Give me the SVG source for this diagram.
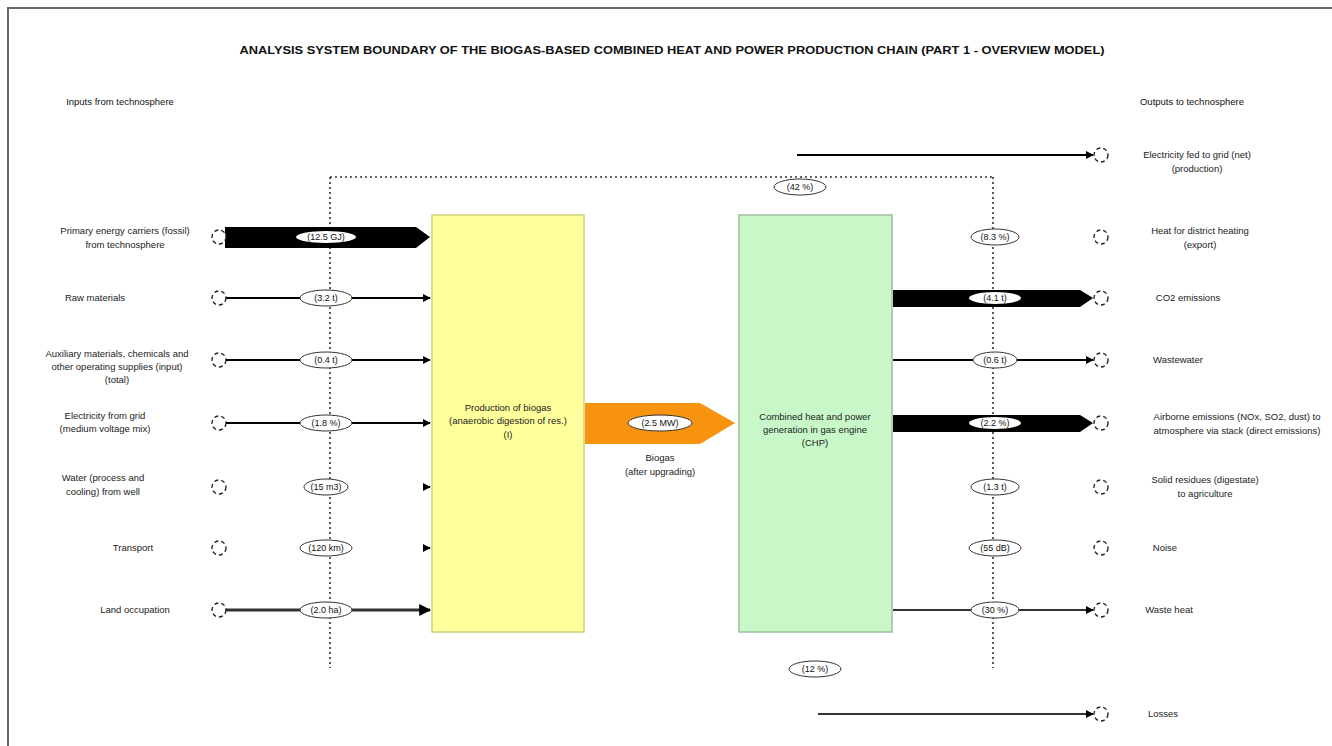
<svg xmlns="http://www.w3.org/2000/svg" width="1332" height="746" viewBox="0 0 1332 746">
<style>
text{font-family:"Liberation Sans",Arial,sans-serif;font-size:9.5px;fill:#222}
.t{font-size:10px;font-weight:bold;fill:#111}
.h{font-size:9.5px;fill:#111}
.lbl{text-anchor:middle}
.ln{stroke:#000;stroke-width:2;fill:none}
.dot{stroke:#333;stroke-width:1.6;stroke-dasharray:2 3;fill:none}
.src{fill:#fff;stroke:#222;stroke-width:1.4;stroke-dasharray:4 3}
.el{fill:#fff;stroke:none}
.elo{fill:#fff;stroke:#333;stroke-width:1}
.eltxt{text-anchor:middle;font-size:9px;fill:#111}
</style>
<defs>
<marker id="ah" viewBox="0 0 10 10" refX="9" refY="5" markerWidth="4" markerHeight="4" orient="auto">
<path d="M0,0 L10,5 L0,10 z" fill="#000"/>
</marker>
</defs>
<rect x="8" y="8" width="1340" height="750" fill="#fff" stroke="#666" stroke-width="2"/>
<text class="t lbl" x="672" y="54" textLength="865" lengthAdjust="spacingAndGlyphs">ANALYSIS SYSTEM BOUNDARY OF THE BIOGAS-BASED COMBINED HEAT AND POWER PRODUCTION CHAIN (PART 1 - OVERVIEW MODEL)</text>
<text class="h lbl" x="120" y="105">Inputs from technosphere</text>
<text class="h lbl" x="1192" y="105">Outputs to technosphere</text>

<g id="boundary">
<path class="dot" d="M330,177 H993 M330,177 V668 M993,177 V668"/>
</g>

<g id="process1">
<rect x="432" y="215" width="152" height="417" fill="#ffff9c" stroke="#cfcf80" stroke-width="1.5"/>
<text class="lbl" x="508" y="411">Production of biogas</text>
<text class="lbl" x="508" y="424">(anaerobic digestion of res.)</text>
<text class="lbl" x="508" y="438">(I)</text>
</g>

<g id="process2">
<rect x="739" y="215" width="153" height="417" fill="#c8f8c8" stroke="#9fbf9f" stroke-width="1.5"/>
<text class="lbl" x="815" y="420">Combined heat and power</text>
<text class="lbl" x="815" y="433">generation in gas engine</text>
<text class="lbl" x="815" y="446">(CHP)</text>
</g>

<g id="connectors">
<polygon points="585,403 700,403 735,423 700,444 585,444" fill="#f7930f"/>
<ellipse class="elo" cx="660" cy="423" rx="32" ry="8"/>
<text class="eltxt" x="660" y="426">(2.5 MW)</text>
<text class="lbl" x="660" y="461">Biogas</text>
<text class="lbl" x="660" y="475">(after upgrading)</text>

<polygon points="225,227 416,227 430,237 416,248 225,248" fill="#000"/>
<ellipse class="el" cx="326" cy="237" rx="30" ry="6"/>
<text class="eltxt" x="326" y="240">(12.5 GJ)</text>
<line class="ln" x1="225" y1="298" x2="430" y2="298" marker-end="url(#ah)"/>
<line class="ln" x1="225" y1="360" x2="430" y2="360" marker-end="url(#ah)"/>
<line class="ln" x1="225" y1="423" x2="430" y2="423" marker-end="url(#ah)"/>
<line class="ln" x1="424" y1="487" x2="430" y2="487" marker-end="url(#ah)"/>
<line class="ln" x1="424" y1="548" x2="430" y2="548" marker-end="url(#ah)"/>
<line x1="225" y1="610" x2="430" y2="610" stroke="#333" stroke-width="3" marker-end="url(#ah)"/>
<g>
<ellipse class="elo" cx="326" cy="298" rx="26" ry="8"/><text class="eltxt" x="326" y="301">(3.2 t)</text>
<ellipse class="elo" cx="326" cy="360" rx="26" ry="8"/><text class="eltxt" x="326" y="363">(0.4 t)</text>
<ellipse class="elo" cx="326" cy="423" rx="26" ry="8"/><text class="eltxt" x="326" y="426">(1.8 %)</text>
<ellipse class="elo" cx="326" cy="487" rx="22" ry="8"/><text class="eltxt" x="326" y="490">(15 m3)</text>
<ellipse class="elo" cx="326" cy="548" rx="26" ry="8"/><text class="eltxt" x="326" y="551">(120 km)</text>
<ellipse class="elo" cx="326" cy="610" rx="26" ry="8"/><text class="eltxt" x="326" y="613">(2.0 ha)</text>
</g>

<line class="ln" x1="797" y1="155" x2="1093" y2="155" marker-end="url(#ah)"/>
<polygon points="893,290 1080,290 1093,298 1080,307 893,307" fill="#000"/>
<line class="ln" x1="893" y1="360" x2="1093" y2="360" marker-end="url(#ah)"/>
<polygon points="893,415 1080,415 1093,423 1080,432 893,432" fill="#000"/>
<line x1="893" y1="610" x2="1093" y2="610" stroke="#333" stroke-width="2" marker-end="url(#ah)"/>
<line x1="818" y1="714" x2="1093" y2="714" stroke="#333" stroke-width="2" marker-end="url(#ah)"/>
<g>
<ellipse class="elo" cx="995" cy="237" rx="24" ry="8"/><text class="eltxt" x="995" y="240">(8.3 %)</text>
<ellipse class="el" cx="995" cy="298" rx="26" ry="6"/><text class="eltxt" x="995" y="301">(4.1 t)</text>
<ellipse class="elo" cx="995" cy="360" rx="22" ry="8"/><text class="eltxt" x="995" y="363">(0.6 t)</text>
<ellipse class="el" cx="995" cy="423" rx="26" ry="6"/><text class="eltxt" x="995" y="426">(2.2 %)</text>
<ellipse class="elo" cx="995" cy="487" rx="24" ry="8"/><text class="eltxt" x="995" y="490">(1.3 t)</text>
<ellipse class="elo" cx="995" cy="548" rx="26" ry="8"/><text class="eltxt" x="995" y="551">(55 dB)</text>
<ellipse class="elo" cx="995" cy="610" rx="24" ry="8"/><text class="eltxt" x="995" y="613">(30 %)</text>
<ellipse class="elo" cx="800" cy="187" rx="26" ry="8"/><text class="eltxt" x="800" y="190">(42 %)</text>
<ellipse class="elo" cx="815" cy="669" rx="26" ry="8"/><text class="eltxt" x="815" y="672">(12 %)</text>
</g>
</g>

<g id="inputs">
<g id="in1"><circle class="src" cx="219" cy="237" r="7"/><text class="lbl" x="125" y="234">Primary energy carriers (fossil)</text><text class="lbl" x="125" y="248">from technosphere</text></g>
<g id="in2"><circle class="src" cx="219" cy="298" r="7"/><text class="lbl" x="95" y="301">Raw materials</text></g>
<g id="in3"><circle class="src" cx="219" cy="360" r="7"/><text class="lbl" x="117" y="357">Auxiliary materials, chemicals and</text><text class="lbl" x="117" y="370">other operating supplies (input)</text><text class="lbl" x="117" y="383">(total)</text></g>
<g id="in4"><circle class="src" cx="219" cy="423" r="7"/><text class="lbl" x="105" y="419">Electricity from grid</text><text class="lbl" x="105" y="432">(medium voltage mix)</text></g>
<g id="in5"><circle class="src" cx="219" cy="487" r="7"/><text class="lbl" x="103" y="481">Water (process and</text><text class="lbl" x="103" y="495">cooling) from well</text></g>
<g id="in6"><circle class="src" cx="219" cy="548" r="7"/><text class="lbl" x="133" y="551">Transport</text></g>
<g id="in7"><circle class="src" cx="219" cy="610" r="7"/><text class="lbl" x="135" y="613">Land occupation</text></g>
</g>

<g id="outputs">
<g id="out0"><circle class="src" cx="1101" cy="155" r="7"/><text class="lbl" x="1197" y="158">Electricity fed to grid (net)</text><text class="lbl" x="1197" y="172">(production)</text></g>
<g id="out1"><circle class="src" cx="1101" cy="237" r="7"/><text class="lbl" x="1200" y="234">Heat for district heating</text><text class="lbl" x="1200" y="248">(export)</text></g>
<g id="out2"><circle class="src" cx="1101" cy="298" r="7"/><text class="lbl" x="1188" y="301">CO2 emissions</text></g>
<g id="out3"><circle class="src" cx="1101" cy="360" r="7"/><text class="lbl" x="1178" y="363">Wastewater</text></g>
<g id="out4"><circle class="src" cx="1101" cy="423" r="7"/><text class="lbl" x="1237" y="420">Airborne emissions (NOx, SO2, dust) to</text><text class="lbl" x="1237" y="434">atmosphere via stack (direct emissions)</text></g>
<g id="out5"><circle class="src" cx="1101" cy="487" r="7"/><text class="lbl" x="1205" y="483">Solid residues (digestate)</text><text class="lbl" x="1205" y="497">to agriculture</text></g>
<g id="out6"><circle class="src" cx="1101" cy="548" r="7"/><text class="lbl" x="1165" y="551">Noise</text></g>
<g id="out7"><circle class="src" cx="1101" cy="610" r="7"/><text class="lbl" x="1169" y="613">Waste heat</text></g>
<g id="out8"><circle class="src" cx="1101" cy="714" r="7"/><text class="lbl" x="1163" y="717">Losses</text></g>
</g>
</svg>
